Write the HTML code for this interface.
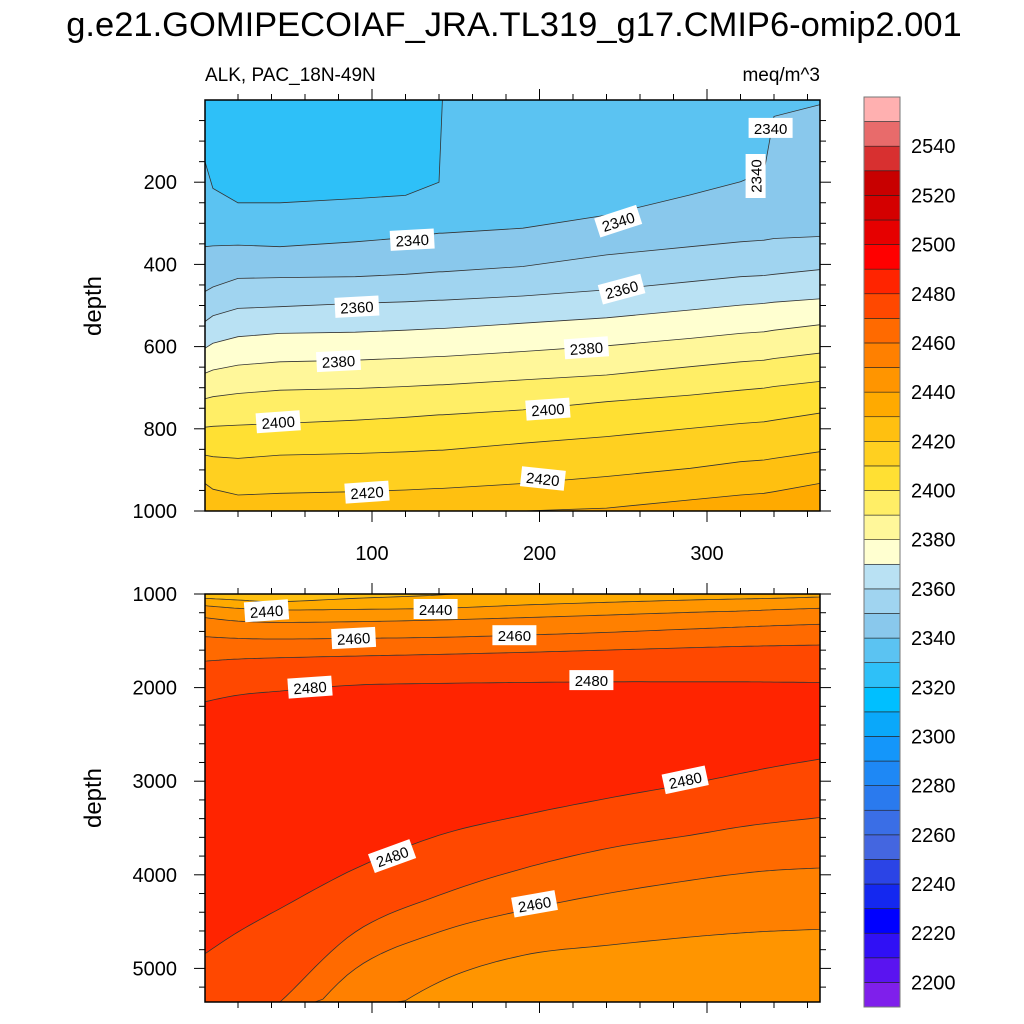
<!DOCTYPE html>
<html><head><meta charset="utf-8"><style>
html,body{margin:0;padding:0;background:#fff;width:1024px;height:1024px;overflow:hidden;}
svg{display:block;font-family:"Liberation Sans",Arial,sans-serif;}
</style></head><body>
<svg id="chart" width="1024" height="1024" viewBox="0 0 1024 1024">
<text x="514" y="36" font-size="34.5" text-anchor="middle">g.e21.GOMIPECOIAF_JRA.TL319_g17.CMIP6-omip2.001</text>
<text x="205" y="81" font-size="19">ALK, PAC_18N-49N</text>
<text x="820" y="81" font-size="19" text-anchor="end">meq/m^3</text>
<text transform="translate(101,306) rotate(-90)" font-size="24" text-anchor="middle">depth</text>
<text transform="translate(101,798) rotate(-90)" font-size="24" text-anchor="middle">depth</text>
<g id="topPanel"></g>
<g id="botPanel"></g>
<g id="axes"></g>
<g id="labels"></g>
<g id="colorbar"></g>
</svg>
<script>
// colour scale (37 boxes, bottom to top)
const cbLevels = [2200,2210,2220,2230,2240,2250,2260,2270,2280,2290,2300,2310,2320,2330,2340,2350,2360,2370,2380,2390,2400,2410,2420,2430,2440,2450,2460,2470,2480,2490,2500,2510,2520,2530,2540,2550];
const cbColors = ["#7F1FEB","#5A14F0","#3010F5","#0000FF","#1428F0","#2B44E6","#4466E0","#3A6EE6","#2A7AEE","#1E88F5","#1496FA","#0AA8FA","#00BFFF","#2EC0F8","#5BC3F2","#89C8EC","#A0D4F0","#B9E1F3","#FFFFD0","#FFF79A","#FFEE66","#FFE033","#FFD020","#FFC010","#FFAA00","#FF9500","#FF8000","#FF6A00","#FF4800","#FF2400","#FF0000","#E60000","#D40000","#C80000","#D83030","#E86B6B","#FFB0B0"];
const cbTickLabels = [2200,2220,2240,2260,2280,2300,2320,2340,2360,2380,2400,2420,2440,2460,2480,2500,2520,2540];

// top panel data (depth of each contour at each day)
const topDays = [0,5,20,45,90,120,140,142,190,240,290,320,334,340,367];
const topLevels = [2330,2340,2350,2360,2370,2380,2390,2400,2410,2420,2430];
const topBase = 2320;
const c2330 = [150,215,250,250,240,232,200,0,0,0,0,0,0,0,0];
const c2340 = [357,355,353,357,345,335,324,324,312,280,231,199,175,40,12];
const c2350 = [466,455,434,432,430,424,418,418,405,377,357,345,341,337,332];
const c2360 = [539,525,507,503,495,491,487,487,477,462,442,430,427,424,413];
const c2370 = [604,592,576,568,565,560,556,556,543,530,511,499,495,492,484];
const c2380 = [665,657,645,637,633,628,624,624,612,598,580,568,564,560,547];
const c2390 = [727,722,714,706,702,697,693,693,681,669,649,637,633,629,616];
const c2400 = [796,794,791,787,779,772,766,766,754,734,718,706,701,697,685];
const c2410 = [864,868,872,864,860,856,852,852,835,819,799,787,783,779,762];
const c2420 = [933,947,961,957,953,949,945,945,933,916,896,880,876,872,856];
const c2430 = [1060,1060,1060,1060,1060,1060,1060,1060,1030,993,973,961,957,953,933];
const topContours = [c2330,c2340,c2350,c2360,c2370,c2380,c2390,c2400,c2410,c2420,c2430];

// bottom panel data
const botDays = [0,20,45,90,140,190,240,290,320,340,367];
const botBase = 2420;
const upLevels = [2430,2440,2450,2460,2470,2480];
const u2430 = [1046,1064,1082,1046,1011,950,950,950,950,950,950];
const u2440 = [1125,1153,1171,1164,1153,1118,1089,1064,1053,1046,1032];
const u2450 = [1253,1289,1303,1296,1278,1253,1225,1196,1182,1168,1153];
const u2460 = [1456,1474,1481,1474,1463,1439,1410,1374,1353,1339,1324];
const u2470 = [1717,1695,1681,1663,1645,1624,1599,1574,1560,1553,1545];
const u2480 = [2151,2080,2037,1973,1955,1945,1938,1938,1938,1941,1945];
const upContours = [u2430,u2440,u2450,u2460,u2470,u2480];
const lowLevels = [2480,2470,2460,2450];
const l2480 = [4843,4611,4362,3934,3578,3364,3185,3025,2918,2847,2765];
const l2470 = [5895,5717,5360,4611,4219,3934,3720,3578,3488,3442,3389];
const l2460 = [6251,6073,5824,5004,4611,4380,4201,4059,3987,3952,3927];
const l2450 = [6964,6786,6429,5716,5146,4861,4754,4665,4622,4601,4583];
const lowContours = [l2480,l2470,l2460,l2450];

// tick labels
const xTickVals = [100,200,300];
const topYTicks = [200,400,600,800,1000];
const botYTicks = [1000,2000,3000,4000,5000];

// contour labels
const topLabelText = ["2340","2340","2340","2340","2360","2360","2380","2380","2400","2400","2420","2420"];
const topLabelDay = [124,247,338,329,91,249,80,228,44,205,97,202];
const topLabelDepth = [340,295,68,185,503,460,635,603,783,752,954,921];
const topLabelAng = [-3,-18,0,-90,-3,-15,-3,-4,-4,-4,-4,6];
const botLabelText = ["2440","2440","2460","2460","2480","2480","2480","2480","2460"];
const botLabelDay = [37,138,89,185,63,231,287,112,197];
const botLabelDepth = [1180,1160,1470,1440,1995,1920,2985,3800,4310];
const botLabelAng = [-4,0,-3,0,-4,0,-12,-20,-10];

const NS = "http://www.w3.org/2000/svg";
function mk(tag, attrs, parent){const e=document.createElementNS(NS,tag);for(const k in attrs)e.setAttribute(k,attrs[k]);parent.appendChild(e);return e;}
const X0=205,X1=820;
function xs(day){return 204.5+day*1.675;}
function yTop(d){return 100+d*0.411;}
function yBot(d){return 594+(d-1000)*0.0936;}
function colorOf(level){const i=cbLevels.indexOf(level);return cbColors[i+1];}
function pts(days,depths,yfun){
  const p=[[X0,yfun(depths[0])]];
  for(let i=0;i<days.length;i++) p.push([Math.max(X0,Math.min(X1,xs(days[i]))),yfun(depths[i])]);
  p.push([X1,yfun(depths[depths.length-1])]);
  return p;
}
// sample (optionally smoothed) curve, then clamp to panel
function sampled(p,smooth,yMin,yMax){
  const out=[[p[0][0],p[0][1]]];
  for(let i=1;i<p.length;i++){
    const b=p[i-1],c=p[i];
    if(!smooth){out.push([c[0],c[1]]);continue;}
    const a=p[Math.max(0,i-2)],d=p[Math.min(p.length-1,i+1)];
    const c1=[b[0]+(c[0]-a[0])/6,b[1]+(c[1]-a[1])/6];
    const c2=[c[0]-(d[0]-b[0])/6,c[1]-(d[1]-b[1])/6];
    for(let k=1;k<=10;k++){
      const t=k/10,u=1-t;
      const x=u*u*u*b[0]+3*u*u*t*c1[0]+3*u*t*t*c2[0]+t*t*t*c[0];
      const y=u*u*u*b[1]+3*u*u*t*c1[1]+3*u*t*t*c2[1]+t*t*t*c[1];
      out.push([x,y]);
    }
  }
  return out.map(q=>[Math.max(X0,Math.min(X1,q[0])),Math.max(yMin,Math.min(yMax,q[1]))]);
}
function toPath(s){return "M"+s.map(q=>q[0].toFixed(1)+","+q[1].toFixed(1)).join(" L");}
function bandPath(s,yB){return toPath(s)+" L"+X1+","+yB+" L"+X0+","+yB+" Z";}
// top panel
const tp=document.getElementById("topPanel");
let r=mk("rect",{x:X0,y:100,width:615,height:411,fill:colorOf(topBase)},tp);


topLevels.forEach((lv,i)=>{
  const s=sampled(pts(topDays,topContours[i],yTop),false,100,511);
  const pg=mk("path",{d:bandPath(s,511),fill:colorOf(lv)},tp);
  
  
});
topLevels.forEach((lv,i)=>{
  const s=sampled(pts(topDays,topContours[i],yTop),false,100,511);
  const pa=mk("path",{d:toPath(s),fill:"none",stroke:"#333",'stroke-width':0.8},tp);
  
  
});
// bottom panel
const bp=document.getElementById("botPanel");
r=mk("rect",{x:X0,y:594,width:615,height:408,fill:colorOf(botBase)},bp);


upLevels.forEach((lv,i)=>{
  const s=sampled(pts(botDays,upContours[i],yBot),true,594,1002);
  const pg=mk("path",{d:bandPath(s,1002),fill:colorOf(lv)},bp);
  
  
});
lowLevels.forEach((lv,i)=>{
  const s=sampled(pts(botDays,lowContours[i],yBot),true,594,1002);
  const pg=mk("path",{d:bandPath(s,1002),fill:colorOf(lv-10)},bp);
  
  
});
upContours.concat(lowContours).forEach((c,i)=>{
  const s=sampled(pts(botDays,c,yBot),true,594,1002);
  const pa=mk("path",{d:toPath(s),fill:"none",stroke:"#333",'stroke-width':0.8},bp);
  
  
});
// axes
const ax=document.getElementById("axes");
function frame(y0,y1,name){
  const f=mk("rect",{x:X0,y:y0,width:X1-X0,height:y1-y0,fill:"none",stroke:"#000",'stroke-width':1.5},ax);
  
  
  for(let d=20; d<=367; d+=20){
    const major=(d%100===0); const L=major?11:6;
    const x=xs(d);
    mk("line",{x1:x,x2:x,y1:y0,y2:y0-L,stroke:"#000",'stroke-width':1},ax);
    mk("line",{x1:x,x2:x,y1:y1,y2:y1+L,stroke:"#000",'stroke-width':1},ax);
  }
}
frame(100,511,"top-plot-frame");
frame(594,1002,"bottom-plot-frame");
for(let d=50; d<=1000; d+=50){
  const y=yTop(d); const L=(d%200===0)?11:6;
  mk("line",{x1:X0,x2:X0-L,y1:y,y2:y,stroke:"#000"},ax);
  mk("line",{x1:X1,x2:X1+L,y1:y,y2:y,stroke:"#000"},ax);
}
for(let d=1000; d<=5300; d+=200){
  const y=yBot(d); const L=(d%1000===0)?11:6;
  mk("line",{x1:X0,x2:X0-L,y1:y,y2:y,stroke:"#000"},ax);
  mk("line",{x1:X1,x2:X1+L,y1:y,y2:y,stroke:"#000"},ax);
}
xTickVals.forEach(v=>{
  const t=mk("text",{x:xs(v),y:560,'font-size':20,'text-anchor':'middle'},ax);
  t.textContent=v;
  
  
});
topYTicks.forEach(v=>{
  const t=mk("text",{x:177,y:yTop(v)+7,'font-size':20,'text-anchor':'end'},ax);
  t.textContent=v;
  
  
});
botYTicks.forEach(v=>{
  const t=mk("text",{x:177,y:yBot(v)+7,'font-size':20,'text-anchor':'end'},ax);
  t.textContent=v;
  
  
});
// contour labels
const lg=document.getElementById("labels");
function clabel(txt,x,y,ang){
  const g=mk("g",{transform:"translate("+x.toFixed(1)+","+y.toFixed(1)+") rotate("+ang+")"},lg);
  
  
  mk("rect",{x:-22,y:-10,width:44,height:20,fill:"#fff"},g);
  const t=mk("text",{x:0,y:6,'font-size':15,'text-anchor':'middle'},g);
  t.textContent=txt;
}
topLabelText.forEach((t,i)=>clabel(t,xs(topLabelDay[i]),yTop(topLabelDepth[i]),topLabelAng[i]));
botLabelText.forEach((t,i)=>clabel(t,xs(botLabelDay[i]),yBot(botLabelDepth[i]),botLabelAng[i]));
// colorbar
const cb=document.getElementById("colorbar");
const cbTop=97,cbBot=1007,bh=(cbBot-cbTop)/cbColors.length;
cbColors.forEach((c,i)=>{
  const rr=mk("rect",{x:864,y:(cbBot-(i+1)*bh).toFixed(2),width:36,height:bh.toFixed(2),fill:c,stroke:"#222",'stroke-width':0.6},cb);
  
  
});
mk("rect",{x:864,y:cbTop,width:36,height:cbBot-cbTop,fill:"none",stroke:"#777",'stroke-width':1},cb);
cbTickLabels.forEach(v=>{
  const i=cbLevels.indexOf(v);
  const y=cbBot-(i+1)*bh;
  const t=mk("text",{x:911,y:y+7,'font-size':20},cb);
  t.textContent=v;
  
  
});
</script>
</body></html>
